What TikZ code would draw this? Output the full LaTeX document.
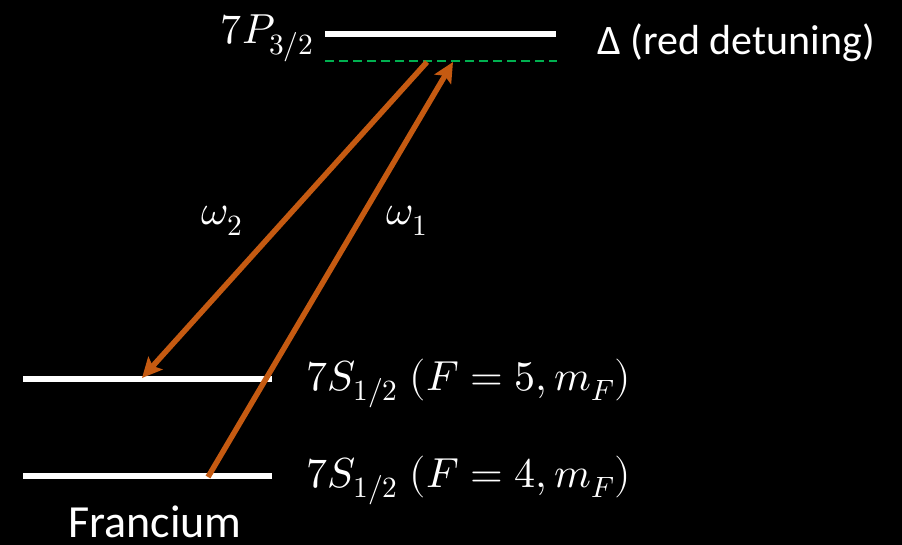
\documentclass[tikz,border=0pt]{standalone}
\usepackage{fontspec}
\usepackage{unicode-math}
\setmainfont{Carlito}
\setmathfont{Latin Modern Math}
\usetikzlibrary{arrows.meta}
\definecolor{lvl}{RGB}{255,255,255}
\definecolor{laser}{RGB}{197,90,17}
\definecolor{virt}{RGB}{0,176,80}
\tikzset{
  level/.style={draw=lvl, line width=5.5pt},
  virtual/.style={draw=virt, line width=2pt, dash pattern=on 9pt off 5pt},
  beam/.style={draw=laser, line width=5.5pt, -{Stealth[length=20pt,width=19pt,inset=4pt]}},
  lab/.style={text=white, inner sep=0pt, font=\fontsize{42}{50}\selectfont},
  mlab/.style={text=white, inner sep=0pt, font=\fontsize{42}{50}\selectfont}
}
\begin{document}
\begin{tikzpicture}[x=1pt,y=-1pt]
\fill[black] (0,0) rectangle (902,545);
\useasboundingbox (0,0) rectangle (902,545);
% levels
\coordinate (pL) at (325,34); \coordinate (pR) at (556,34);
\coordinate (vL) at (325,61); \coordinate (vR) at (557,61);
\coordinate (fL) at (23,379); \coordinate (fR) at (272,379);
\coordinate (gL) at (23,476); \coordinate (gR) at (272,476);
\draw[level] (pL) -- (pR);
\draw[virtual] (vL) -- (vR);
\draw[level] (fL) -- (fR);
\draw[level] (gL) -- (gR);
% beams
\coordinate (b2s) at (427,62); \coordinate (b2e) at (142,378);
\coordinate (b1s) at (208,477); \coordinate (b1e) at (453,62);
\draw[beam] (b2s) -- (b2e);
\draw[beam] (b1s) -- (b1e);
% labels
\node[mlab, anchor=base east] (tP) at (314,44) {$7P_{3/2}$};
\node[lab, anchor=base west] (tD) at (597,55) {Δ (red detuning)};
\node[mlab, anchor=base west] (tF5) at (306,390) {$7S_{1/2}\;(F=5,m_F)$};
\node[mlab, anchor=base west] (tF4) at (306,487) {$7S_{1/2}\;(F=4,m_F)$};
\node[lab, anchor=base west, font=\fontsize{46}{54}\selectfont] (tFr) at (68,537) {Francium};
\node[mlab, anchor=base west] (w2) at (201,225) {$\omega_2$};
\node[mlab, anchor=base west] (w1) at (386,225) {$\omega_1$};
\end{tikzpicture}
\end{document}
